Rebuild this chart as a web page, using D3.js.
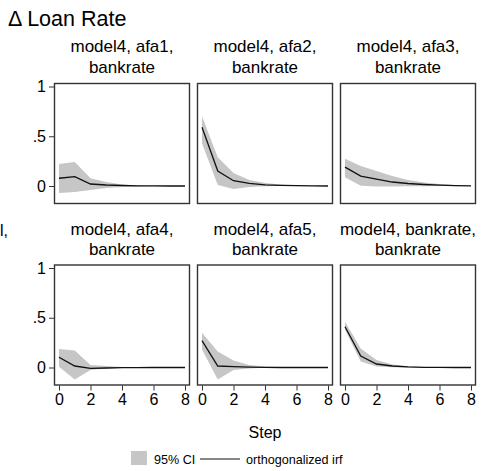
<!DOCTYPE html>
<html><head><meta charset="utf-8">
<script src="https://cdn.jsdelivr.net/npm/d3@7"></script>
<style>body{margin:0;background:#fff}svg{display:block;font-family:Arial,"Liberation Sans",sans-serif}</style>
</head><body><div id="c"></div>
<script>
const steps = [0,1,2,3,4,5,6,7,8];
const panelTitles = [
  ["model4, afa1,","bankrate"],["model4, afa2,","bankrate"],["model4, afa3,","bankrate"],
  ["model4, afa4,","bankrate"],["model4, afa5,","bankrate"],["model4, bankrate,","bankrate"]
];
const irf = [
  [0.078,0.094,0.02,0.01,0.005,0.002,0.001,0,0],
  [0.59,0.15,0.053,0.027,0.012,0.006,0.003,0.001,0],
  [0.19,0.10,0.07,0.04,0.025,0.015,0.008,0.004,0.002],
  [0.103,0.015,-0.008,-0.005,-0.002,-0.001,0,0,0],
  [0.27,0.015,0.008,0.003,0.001,0,0,0,0],
  [0.41,0.116,0.035,0.015,0.006,0.002,0.001,0,0]
];
const ciUpper = [
  [0.22,0.24,0.078,0.04,0.015,0.006,0.003,0.001,0.001],
  [0.70,0.29,0.13,0.06,0.03,0.015,0.007,0.003,0.001],
  [0.275,0.2,0.15,0.1,0.06,0.035,0.02,0.01,0.005],
  [0.187,0.17,0.025,0.015,0.005,0.002,0.001,0,0],
  [0.35,0.16,0.07,0.025,0.01,0.004,0.001,0,0],
  [0.46,0.19,0.075,0.03,0.012,0.005,0.002,0.001,0]
];
const ciLower = [
  [-0.07,-0.06,-0.04,-0.02,-0.01,-0.005,-0.002,-0.001,-0.001],
  [0.43,0.01,-0.03,-0.01,-0.003,-0.001,0,0,-0.001],
  [0.087,0.003,-0.005,-0.005,-0.003,-0.002,-0.001,0,0],
  [0.008,-0.12,-0.025,-0.01,-0.005,-0.002,-0.001,0,0],
  [0.18,-0.12,-0.025,-0.01,-0.003,-0.001,0,0,0],
  [0.38,0.06,0.01,0.003,0.001,0,0,0,0]
];
const yTicks = [0,0.5,1];
const yTickLabels = ["0",".5","1"];
const xTicks = [0,2,4,6,8];

const W=489,H=471;
const svg=d3.select("#c").append("svg").attr("width",W).attr("height",H);
const fw=135, fh=120, pitchX=143, pitchY=181.5, left0=54.5, top0=83.5;
const x=d3.scaleLinear().domain([0,8]).range([4.5,130.5]);
const y=d3.scaleLinear().domain([0,1]).range([102.5,3]);
const band="#c6c6c6";

svg.append("text").attr("x",8).attr("y",26).attr("font-size",21.5).attr("fill","#000").text("\u0394 Loan Rate");
svg.append("text").attr("x",0).attr("y",236).attr("font-size",16).text("l,");

panelTitles.forEach((t,i)=>{
  const col=i%3,row=Math.floor(i/3);
  const g=svg.append("g").attr("transform",`translate(${left0+col*pitchX},${top0+row*pitchY})`);
  const area=d3.area().x((d,j)=>x(steps[j])).y0((d,j)=>y(ciLower[i][j])).y1(d=>y(d));
  g.append("path").attr("d",area(ciUpper[i])).attr("fill",band);
  const line=d3.line().x((d,j)=>x(steps[j])).y(d=>y(d));
  g.append("path").attr("d",line(irf[i])).attr("fill","none").attr("stroke","#111").attr("stroke-width",1.3);
  g.append("rect").attr("width",fw).attr("height",fh).attr("fill","none").attr("stroke","#333").attr("stroke-width",1.4);
  g.append("text").attr("x",fw/2).attr("y",-32 + row*2).attr("text-anchor","middle").attr("font-size",17).text(t[0]);
  g.append("text").attr("x",fw/2).attr("y",-11 + row*1).attr("text-anchor","middle").attr("font-size",17).text(t[1]);
  if(col===0){
    const ax=g.append("g").attr("transform","translate(-0.5,0)")
      .call(d3.axisLeft(y).tickValues(yTicks).tickFormat((d,k)=>yTickLabels[k]).tickSize(5).tickPadding(3));
    ax.select(".domain").remove();
    ax.selectAll("line").attr("stroke","#333");
    ax.selectAll("text").attr("font-size",16).attr("font-family",null).attr("fill","#000");
  }
  if(row===1){
    const ax=g.append("g").attr("transform",`translate(0,${fh+0.5})`)
      .call(d3.axisBottom(x).tickValues(xTicks).tickSize(5).tickPadding(3));
    ax.select(".domain").remove();
    ax.selectAll("line").attr("stroke","#333");
    ax.selectAll("text").attr("font-size",16).attr("font-family",null).attr("fill","#000");
  }
});
svg.append("text").attr("x",left0+(2*pitchX+fw)/2).attr("y",438).attr("text-anchor","middle").attr("font-size",16).text("Step");
const lg=svg.append("g");
lg.append("rect").attr("x",131).attr("y",451).attr("width",16).attr("height",14).attr("fill",band);
lg.append("text").attr("x",154).attr("y",464).attr("font-size",12.6).text("95% CI");
lg.append("line").attr("x1",200).attr("x2",240).attr("y1",459).attr("y2",459).attr("stroke","#111").attr("stroke-width",1.2);
lg.append("text").attr("x",246).attr("y",464).attr("font-size",12.6).text("orthogonalized irf");
</script></body></html>
